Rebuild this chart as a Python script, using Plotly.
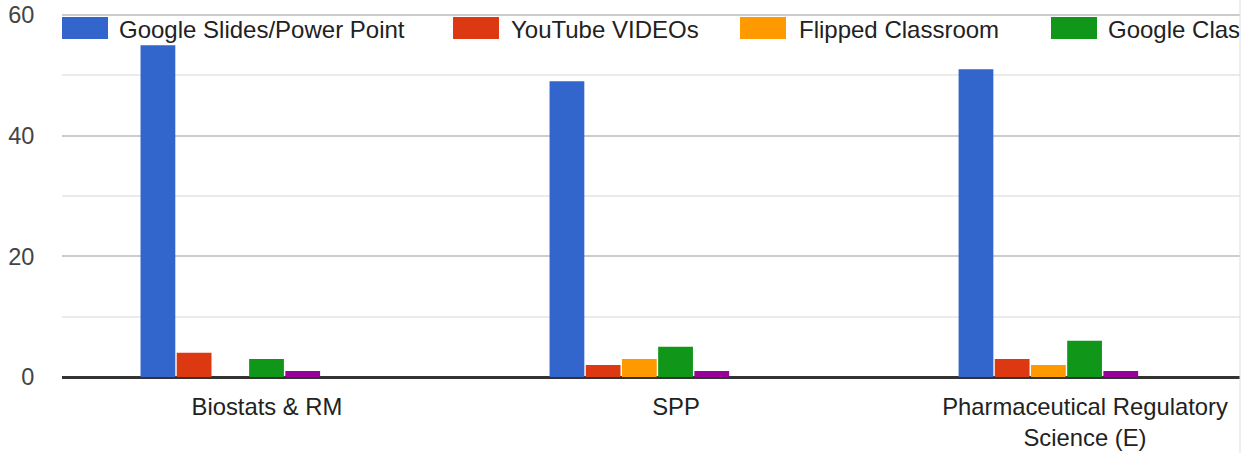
import plotly.graph_objects as go

# data
categories = ["Biostats & RM", "SPP", "Pharmaceutical Regulatory<br>Science (E)"]
series_names = ["Google Slides/Power Point", "YouTube VIDEOs", "Flipped Classroom",
                "Google Classroom", "Other"]
slides = [55, 49, 51]
youtube = [4, 2, 3]
flipped = [0, 3, 2]
classroom = [3, 5, 6]
other = [1, 1, 1]

colors = ["#3366cc", "#dc3912", "#ff9900", "#109618", "#990099"]
font_family = "Arial, Liberation Sans, sans-serif"

W, H = 1250, 453
L, R, T, B = 62, 10, 15, 76
plot_w = W - L - R
plot_h = H - T - B
plot_left, plot_bottom = L, H - B   # in page pixels


def px_x(x):
    return (x - plot_left) / plot_w


def px_y(y):
    return (plot_bottom - y) / plot_h


fig = go.Figure()

# google-style grouped bars: group is 61.8% of the band, 7 slots per group
slot = 0.0885
bar_w = 0.085
for i, (name, vals) in enumerate(zip(series_names, [slides, youtube, flipped, classroom, other])):
    fig.add_trace(go.Bar(
        x=categories, y=vals, name=name,
        marker=dict(color=colors[i], line=dict(width=0)),
        width=bar_w, offset=-0.309 + i * slot,
        showlegend=False,
    ))

# legend drawn by hand (wide swatches, clipped at right edge like the original)
leg_swatch_x = [62, 453, 740, 1051]
leg_text_x = [119, 511, 799, 1108]
leg_top, leg_bot = 17, 39
shapes = []
for i in range(4):
    shapes.append(dict(
        type="rect", xref="paper", yref="paper",
        x0=px_x(leg_swatch_x[i]), x1=px_x(leg_swatch_x[i] + 46),
        y0=px_y(leg_bot), y1=px_y(leg_top),
        fillcolor=colors[i], line=dict(width=0), layer="above",
    ))
fig.add_trace(go.Scatter(
    x=[px_x(x) for x in leg_text_x], y=[60 * px_y(31.5)] * 4,
    text=series_names[:4], mode="text", textposition="middle right",
    textfont=dict(size=24, color="#222", family=font_family),
    xaxis="x2", yaxis="y", cliponaxis=True, showlegend=False, hoverinfo="skip",
))

# top gridline (plotly skips the one sitting on the edge)
shapes.append(dict(type="line", xref="paper", yref="paper", x0=0, x1=1, y0=1, y1=1,
                   line=dict(color="#cccccc", width=2), layer="below"))
# thin grey edge at right like the cropped source
shapes.append(dict(type="line", xref="paper", yref="paper", x0=1, x1=1,
                   y0=-B / plot_h, y1=1 + T / plot_h,
                   line=dict(color="#dddddd", width=1)))

fig.update_layout(
    width=W, height=H,
    margin=dict(l=L, r=R, t=T, b=B, autoexpand=False),
    paper_bgcolor="white", plot_bgcolor="white",
    barmode="overlay",
    font=dict(family=font_family, size=23.5, color="#222"),
    shapes=shapes,
    xaxis=dict(
        type="category", range=[-0.501, 2.379], automargin=False,
        showgrid=False, showline=False, zeroline=False,
        ticks="outside", ticklen=8, tickcolor="rgba(0,0,0,0)",
        tickfont=dict(size=23.8, color="#222"),
    ),
    xaxis2=dict(overlaying="x", range=[0, 1], visible=False),
    yaxis=dict(
        range=[0, 60], tickvals=[0, 20, 40, 60], automargin=False,
        ticklabeloverflow="allow",
        showgrid=True, gridcolor="#cccccc", gridwidth=2,
        minor=dict(tickvals=[10, 30, 50], showgrid=True, gridcolor="#ebebeb", gridwidth=2),
        zeroline=True, zerolinecolor="#333333", zerolinewidth=2.5,
        showline=False,
        ticks="outside", ticklen=22, tickcolor="rgba(0,0,0,0)",
        tickfont=dict(size=23.5, color="#444"),
    ),
    showlegend=False,
)

# drop the default 8px body margin so the figure sits at the page corner
fig.write_html("out.html", config={"displayModeBar": False},
               post_script="document.body.style.margin='0';")
